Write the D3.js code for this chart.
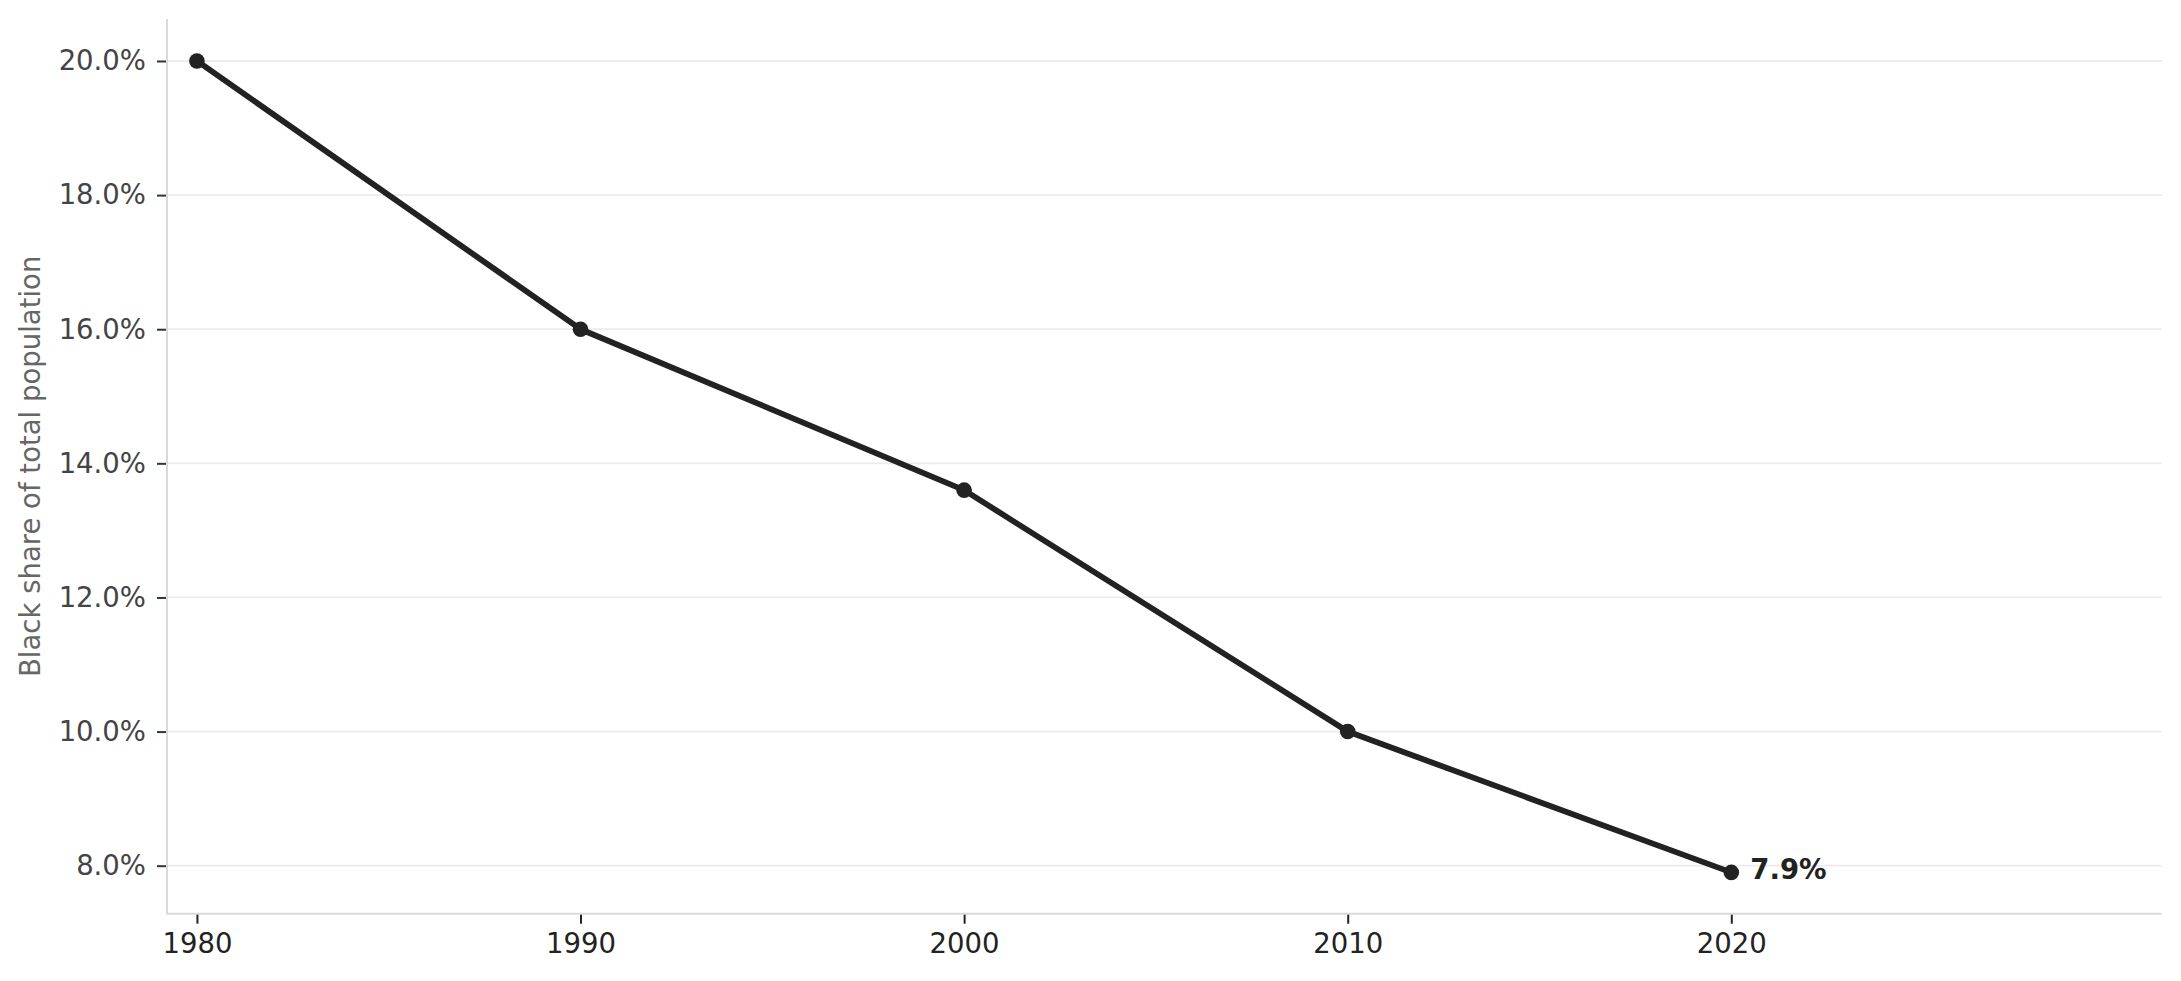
<!DOCTYPE html>
<html>
<head>
<meta charset="utf-8">
<script src="https://cdn.jsdelivr.net/npm/d3@7"></script>
<style>
  body { margin: 0; background: #fff; }
  text { font-family: 'DejaVu Sans', sans-serif; }
</style>
</head>
<body>
<svg id="chart"></svg>
<script>
const years = [1980, 1990, 2000, 2010, 2020]
const blackShare = [20.0, 16.0, 13.6, 10.0, 7.9]
const yTicks = [8, 10, 12, 14, 16, 18, 20]
const xTicks = [1980, 1990, 2000, 2010, 2020]
const yTitle = 'Black share of total population'

const width = 2181
const height = 981
const marginLeft = 167
const marginRight = 2161.7
const marginTop = 19
const marginBottom = 913.7
const fontSize = 27.5

const points = years.map((y, i) => ({ year: y, value: blackShare[i] }))

const svg = d3.select('#chart')
  .attr('width', width)
  .attr('height', height)

const xscale = d3.scaleLinear()
  .domain([1979.22, 2031.22])
  .range([marginLeft, marginRight])

const yscale = d3.scaleLinear()
  .domain([7.284, 20.626])
  .range([marginBottom, marginTop])

// grid
svg.append('g')
  .selectAll('line')
  .data(yTicks)
  .enter()
  .append('line')
  .attr('x1', marginLeft)
  .attr('x2', marginRight)
  .attr('y1', (d) => yscale(d))
  .attr('y2', (d) => yscale(d))
  .attr('stroke', '#ebebeb')
  .attr('stroke-width', 1.8)

// axes
const leftAxis = d3.axisLeft(yscale)
  .tickValues(yTicks)
  .tickSize(10)
  .tickPadding(11)
  .tickFormat((d) => d.toFixed(1) + '%')

const yAxis = svg.append('g')
  .attr('transform', `translate(${marginLeft}, 0)`)
  .call(leftAxis)
yAxis.select('.domain').remove()
yAxis.selectAll('.tick line').attr('stroke', '#333').attr('stroke-width', 2)
yAxis.selectAll('.tick text')
  .attr('fill', '#444')
  .style('font-size', fontSize + 'px')
  .style('font-family', 'DejaVu Sans')

const bottomAxis = d3.axisBottom(xscale)
  .tickValues(xTicks)
  .tickSize(10)
  .tickPadding(10)
  .tickFormat(d3.format('d'))

const xAxis = svg.append('g')
  .attr('transform', `translate(0, ${marginBottom})`)
  .call(bottomAxis)
xAxis.select('.domain').remove()
xAxis.selectAll('.tick line').attr('stroke', '#222').attr('stroke-width', 2)
xAxis.selectAll('.tick text')
  .attr('fill', '#222')
  .style('font-size', fontSize + 'px')
  .style('font-family', 'DejaVu Sans')

// spines
svg.append('line')
  .attr('x1', marginLeft).attr('x2', marginLeft)
  .attr('y1', marginTop).attr('y2', marginBottom)
  .attr('stroke', '#d9d9d9')
  .attr('stroke-width', 2)
svg.append('line')
  .attr('x1', marginLeft - 1).attr('x2', marginRight)
  .attr('y1', marginBottom).attr('y2', marginBottom)
  .attr('stroke', '#d9d9d9')
  .attr('stroke-width', 2)

// y title
svg.append('text')
  .text(yTitle)
  .attr('transform', `translate(40, ${(marginTop + marginBottom) / 2}) rotate(-90)`)
  .attr('text-anchor', 'middle')
  .attr('fill', '#666')
  .style('font-size', fontSize + 'px')

// line + markers
const line = d3.line()
  .x((d) => xscale(d.year))
  .y((d) => yscale(d.value))

svg.append('path')
  .datum(points)
  .attr('d', line)
  .attr('fill', 'none')
  .attr('stroke', '#222')
  .attr('stroke-width', 5.8)
  .attr('stroke-linejoin', 'round')

svg.append('g')
  .selectAll('circle')
  .data(points)
  .enter()
  .append('circle')
  .attr('cx', (d) => xscale(d.year))
  .attr('cy', (d) => yscale(d.value))
  .attr('r', 7.8)
  .attr('fill', '#222')

// end label
const last = points[points.length - 1]
svg.append('text')
  .text(last.value.toFixed(1) + '%')
  .attr('x', xscale(last.year) + 19)
  .attr('y', yscale(last.value) + 7)
  .attr('fill', '#222')
  .style('font-weight', 'bold')
  .style('font-size', fontSize + 'px')
</script>
</body>
</html>
